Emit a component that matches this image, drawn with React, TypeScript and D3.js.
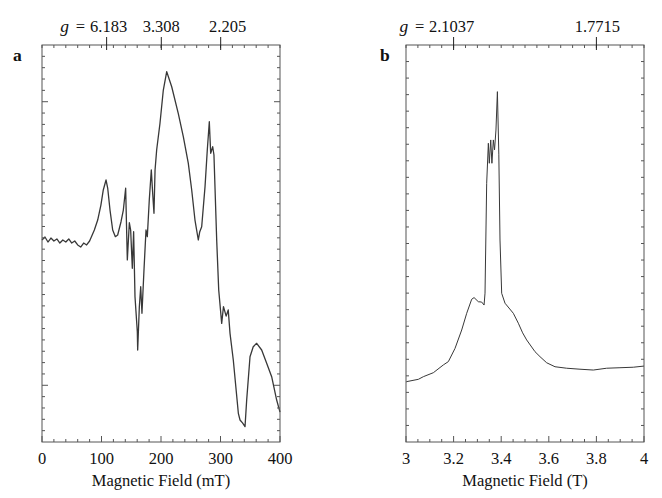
import React from "react";
import * as d3 from "d3";

// Panel a: X-band spectrum, field in mT, signal in arbitrary units
const fieldA = [0, 5, 10, 15, 20, 25, 30, 35, 40, 45, 50, 55, 60, 65, 70, 75, 80, 88, 93.6, 99, 103, 107.6, 110.4, 114.3, 118.8, 123.3, 127.2, 132.8, 136.7, 140.6, 143.4, 146.8, 149, 151.8, 154, 156.3, 160.2, 160.8, 163.6, 165.9, 168, 171.4, 174.8, 177, 180.3, 183.7, 186, 188.2, 190, 192.7, 198.3, 203.9, 209.6, 212, 218, 229, 237.5, 245.9, 251.6, 257.1, 262.7, 265, 268.4, 274, 277.8, 281.2, 283.5, 286.9, 289, 293.6, 297, 302, 305, 309.5, 313, 316, 321.5, 330, 332.8, 337, 341.2, 344, 349.6, 355, 360.8, 369.2, 377.6, 386, 394.4, 400];
const signalA = [17.81, 18.07, 17.63, 17.98, 17.72, 17.9, 17.54, 17.81, 17.63, 17.9, 17.54, 17.72, 17.37, 17.19, 17.54, 17.37, 17.72, 18.69, 19.57, 20.89, 22.22, 23.1, 22.39, 20.45, 18.69, 18.1, 18.25, 19.42, 20.45, 22.37, 16.05, 19.33, 18.69, 15.31, 18.54, 12.81, 9.72, 8.11, 11.93, 13.69, 11.35, 15.16, 18.69, 18.1, 21.33, 23.98, 21.93, 20.16, 23.98, 25.74, 28.1, 31.03, 32.65, 32.27, 31.32, 28.98, 26.92, 24.57, 22.22, 19.57, 17.81, 18.51, 18.98, 22.51, 25.74, 28.24, 25.45, 26.03, 25.3, 17.81, 13.4, 10.46, 11.93, 11.1, 11.64, 9.58, 7.23, 2.53, 1.94, 1.68, 1.35, 3.7, 7.52, 8.4, 8.7, 8.11, 6.94, 5.76, 3.7, 2.64];

// Panel b: high-field spectrum, field in T
const fieldB = [3.0, 3.003, 3.052, 3.073, 3.115, 3.157, 3.178, 3.206, 3.234, 3.255, 3.276, 3.286, 3.304, 3.318, 3.328, 3.332, 3.339, 3.346, 3.35, 3.356, 3.361, 3.367, 3.372, 3.378, 3.384, 3.39, 3.395, 3.402, 3.416, 3.451, 3.472, 3.49, 3.507, 3.542, 3.563, 3.591, 3.626, 3.675, 3.731, 3.787, 3.843, 3.899, 3.955, 4.0];
const signalB = [3.62, 3.65, 3.79, 3.95, 4.19, 4.66, 4.86, 5.66, 6.77, 7.78, 8.63, 8.73, 8.48, 8.46, 8.28, 9.0, 15.64, 18.06, 16.85, 18.26, 16.85, 18.26, 17.66, 18.86, 21.18, 17.4, 12.21, 8.99, 8.39, 7.78, 7.18, 6.6, 6.17, 5.46, 5.16, 4.79, 4.55, 4.46, 4.4, 4.35, 4.46, 4.49, 4.52, 4.59];

const xTickLabelsA = [0, 100, 200, 300, 400];
const xTickLabelsB = [3, 3.2, 3.4, 3.6, 3.8, 4];
const gFieldsA = [108.6, 200.5, 300.3];
const gLabelsA = ["6.183", "3.308", "2.205"];
const gFieldsB = [3.2, 3.8];
const gLabelsB = ["2.1037", "1.7715"];
const yMajorA = [5, 30];

const FONT = "'Liberation Serif', 'Times New Roman', serif";

type PanelProps = {
  x0: number; x1: number; y0: number; y1: number;
  xDomain: [number, number]; yDomain: [number, number];
  xMinor: number; xMajor: number; yStep: number; yMajor: number[];
  xs: number[]; ys: number[]; lineW: number;
  xTickLabels: number[]; fmt: (v: number) => string;
  gFields: number[]; gLabels: string[]; gDx: number[];
  label: string; labelX: number; title: string;
};

function Panel(p: PanelProps) {
  const x = d3.scaleLinear().domain(p.xDomain).range([p.x0, p.x1]);
  const y = d3.scaleLinear().domain(p.yDomain).range([p.y1, p.y0]);
  const eps = 1e-9;
  const xt = d3.range(p.xDomain[0], p.xDomain[1] + p.xMinor / 2, p.xMinor);
  const isMajor = (v: number) => Math.abs(v / p.xMajor - Math.round(v / p.xMajor)) < 1e-6;
  const yt = d3.range(p.yDomain[0] + p.yStep, p.yDomain[1] - eps, p.yStep);
  const pts = p.xs.map((v, i) => [v, p.ys[i]] as [number, number]);
  const line = d3.line<[number, number]>().x(d => x(d[0])).y(d => y(d[1]));
  const frame = "#555";
  const firstLabelLeft = x(p.gFields[0]) + p.gDx[0] - p.gLabels[0].length * 3.9;
  return (
    <g>
      <path d={line(pts) || ""} fill="none" stroke="#383838" strokeWidth={p.lineW} strokeLinejoin="round" />
      <rect x={p.x0} y={p.y0} width={p.x1 - p.x0} height={p.y1 - p.y0} fill="none" stroke={frame} strokeWidth={1} />
      {xt.map((v, i) => {
        const px = x(v);
        const len = isMajor(v) ? 6 : 3;
        return (
          <g key={"xt" + i}>
            <line x1={px} x2={px} y1={p.y1} y2={p.y1 - len} stroke={frame} strokeWidth={1} />
            <line x1={px} x2={px} y1={p.y0} y2={p.y0 + 3} stroke={frame} strokeWidth={1} />
          </g>
        );
      })}
      {yt.map((v, i) => {
        const py = y(v);
        const len = p.yMajor.some(m => Math.abs(m - v) < 1e-6) ? 6 : 3;
        return (
          <g key={"yt" + i}>
            <line x1={p.x0} x2={p.x0 + len} y1={py} y2={py} stroke={frame} strokeWidth={1} />
            <line x1={p.x1} x2={p.x1 - len} y1={py} y2={py} stroke={frame} strokeWidth={1} />
          </g>
        );
      })}
      {p.xTickLabels.map((v, i) => (
        <text key={"xl" + i} x={x(v)} y={464} textAnchor="middle" fontSize={16.5} fontFamily={FONT} fill="#111">{p.fmt(v)}</text>
      ))}
      <text x={(p.x0 + p.x1) / 2} y={486} textAnchor="middle" fontSize={16.5} fontFamily={FONT} fill="#111">{p.title}</text>
      {p.gFields.map((v, i) => (
        <g key={"g" + i}>
          <line x1={x(v)} x2={x(v)} y1={p.y0 - 8} y2={p.y0 + 5} stroke="#222" strokeWidth={1} />
          <text x={x(v) + p.gDx[i]} y={32} textAnchor="middle" fontSize={16.5} fontFamily={FONT} fill="#111">{p.gLabels[i]}</text>
        </g>
      ))}
      <text x={firstLabelLeft - 4} y={32} textAnchor="end" fontSize={16.5} fontFamily={FONT} fill="#111">=</text>
      <text x={firstLabelLeft - 20} y={32} textAnchor="end" fontSize={17.5} fontStyle="italic" fontFamily={FONT} fill="#111">g</text>
      <text x={p.labelX} y={61} fontSize={17.5} fontWeight="bold" fontFamily={FONT} fill="#111">{p.label}</text>
    </g>
  );
}

export default function App() {
  return (
    <svg width={662} height={498} style={{ position: "absolute", left: 0, top: 0, background: "#fff" }}>
      <rect x={0} y={0} width={662} height={498} fill="#fff" />
      <Panel x0={42} x1={280} y0={45} y1={442} xDomain={[0, 400]} yDomain={[0, 35]}
        xMinor={20} xMajor={100} yStep={1} yMajor={yMajorA}
        xs={fieldA} ys={signalA} lineW={1.3} xTickLabels={xTickLabelsA} fmt={v => String(v)}
        gFields={gFieldsA} gLabels={gLabelsA} gDx={[2, 0, 7]}
        label="a" labelX={13} title="Magnetic Field (mT)" />
      <Panel x0={406} x1={644} y0={45} y1={442} xDomain={[3, 4]} yDomain={[0, 24]}
        xMinor={0.05} xMajor={0.2} yStep={1} yMajor={[]}
        xs={fieldB} ys={signalB} lineW={1} xTickLabels={xTickLabelsB} fmt={v => (v === 3 || v === 4 ? String(v) : v.toFixed(1))}
        gFields={gFieldsB} gLabels={gLabelsB} gDx={[-2, 1]}
        label="b" labelX={380} title="Magnetic Field (T)" />
    </svg>
  );
}
